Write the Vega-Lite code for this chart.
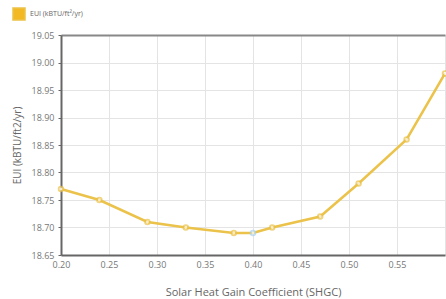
{
  "$schema": "https://vega.github.io/schema/vega-lite/v6.json",
  "autosize": "none",
  "width": 384,
  "height": 220,
  "padding": {"left": 61, "top": 35, "right": 1, "bottom": 44},
  "background": "white",
  "config": {
    "view": {"stroke": null},
    "font": "Open Sans",
    "axis": {
      "labelFont": "Open Sans",
      "titleFont": "Open Sans",
      "labelColor": "#777",
      "titleColor": "#666",
      "labelFontSize": 9,
      "titleFontSize": 11,
      "titleFontWeight": "normal",
      "gridColor": "#e4e4e4",
      "gridWidth": 1,
      "domainColor": "#666",
      "domainWidth": 2,
      "tickColor": "#666",
      "tickSize": 3,
      "labelOverlap": false,
      "labelFlush": false
    },
    "legend": {"labelFont": "Open Sans", "labelFontSize": 7, "labelColor": "#666"}
  },
  "resolve": {"axis": {"x": "independent"}},
  "data": {
    "values": [
      {"shgc": 0.20, "eui": 18.77, "selected": "no", "series": "EUI (kBTU/ft²/yr)"},
      {"shgc": 0.24, "eui": 18.75, "selected": "no", "series": "EUI (kBTU/ft²/yr)"},
      {"shgc": 0.29, "eui": 18.71, "selected": "no", "series": "EUI (kBTU/ft²/yr)"},
      {"shgc": 0.33, "eui": 18.70, "selected": "no", "series": "EUI (kBTU/ft²/yr)"},
      {"shgc": 0.38, "eui": 18.69, "selected": "no", "series": "EUI (kBTU/ft²/yr)"},
      {"shgc": 0.40, "eui": 18.69, "selected": "yes", "series": "EUI (kBTU/ft²/yr)"},
      {"shgc": 0.42, "eui": 18.70, "selected": "no", "series": "EUI (kBTU/ft²/yr)"},
      {"shgc": 0.47, "eui": 18.72, "selected": "no", "series": "EUI (kBTU/ft²/yr)"},
      {"shgc": 0.51, "eui": 18.78, "selected": "no", "series": "EUI (kBTU/ft²/yr)"},
      {"shgc": 0.56, "eui": 18.86, "selected": "no", "series": "EUI (kBTU/ft²/yr)"},
      {"shgc": 0.60, "eui": 18.98, "selected": "no", "series": "EUI (kBTU/ft²/yr)"}
    ]
  },
  "encoding": {
    "y": {
      "field": "eui", "type": "quantitative",
      "scale": {"domain": [18.65, 19.05], "nice": false, "zero": false},
      "axis": {
        "title": "EUI (kBTU/ft2/yr)",
        "titleFontSize": 10,
        "values": [18.65, 18.7, 18.75, 18.8, 18.85, 18.9, 18.95, 19.0, 19.05],
        "format": ".2f",
        "labelPadding": 4,
        "titlePadding": 9,
        "labelOverlap": false
      }
    }
  },
  "layer": [
    {
      "mark": {"type": "line", "strokeWidth": 2.5, "clip": false},
      "encoding": {
        "x": {
          "field": "shgc", "type": "quantitative",
          "scale": {"domain": [0.2, 0.6], "nice": false, "zero": false},
          "axis": {
            "title": "Solar Heat Gain Coefficient (SHGC)",
            "orient": "bottom",
            "values": [0.2, 0.25, 0.3, 0.35, 0.4, 0.45, 0.5, 0.55, 0.6],
            "labelExpr": "datum.value > 0.58 ? '' : format(datum.value, '.2f')",
            "labelPadding": 5,
            "titlePadding": 17,
            "ticks": false
          }
        },
        "color": {
          "field": "series", "type": "nominal",
          "scale": {"range": ["#EBC24A"]},
          "legend": {
            "title": null,
            "orient": "none",
            "legendX": -49,
            "legendY": -28,
            "symbolType": "square",
            "symbolSize": 144,
            "symbolFillColor": "#F2B925",
            "symbolStrokeColor": "#F2B925"
          }
        }
      }
    },
    {
      "mark": {"type": "point", "filled": true, "fill": "white", "size": 22, "strokeWidth": 1.8, "clip": false},
      "encoding": {
        "x": {"field": "shgc", "type": "quantitative", "axis": {"orient": "top", "labels": false, "ticks": false, "grid": false, "title": null, "domainColor": "#888", "domainWidth": 2}},
        "stroke": {
          "field": "selected", "type": "nominal",
          "scale": {"domain": ["no", "yes"], "range": ["#EBC24A", "#A9D3F2"]},
          "legend": null
        }
      }
    }
  ]
}
